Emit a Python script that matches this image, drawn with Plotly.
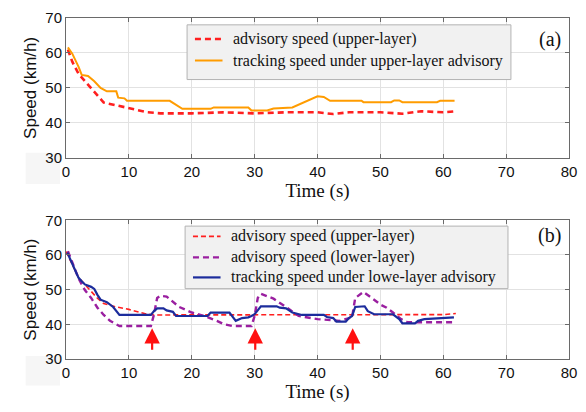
import plotly.graph_objects as go

# ---------------- Data ----------------
# Panel (a)
a_adv_t = [0.3, 1, 2, 3, 4, 5, 6, 8, 10, 12, 13, 15, 20, 25, 30, 35, 40, 42.5, 45, 50, 53.5, 56.5, 60, 62]
a_adv_v = [61.0, 57.5, 54.0, 52.0, 50.0, 48.0, 45.8, 45.0, 44.3, 43.4, 43.0, 42.7, 42.7, 43.0, 42.7, 43.0, 43.0, 42.5, 43.0, 43.0, 42.6, 43.3, 43.0, 43.3]
a_trk_t = [0.3, 1, 2, 2.5, 3.5, 4.5, 5.5, 6.5, 8, 8.3, 9.3, 9.7, 16.5, 18.5, 23, 23.5, 29, 29.5, 32, 33, 36, 38, 40, 41, 42, 47, 47.3, 51.7, 52.2, 53, 53.5, 59, 59.5, 61.8]
a_trk_v = [61.6, 59.8, 56.0, 53.7, 53.4, 51.9, 50.0, 49.0, 49.0, 47.2, 47.0, 46.3, 46.3, 44.0, 44.0, 44.4, 44.4, 43.5, 43.5, 44.1, 44.4, 46.0, 47.6, 47.4, 46.3, 46.3, 45.9, 45.9, 46.4, 46.4, 45.9, 45.9, 46.3, 46.3]

# Panel (b)
b_up_t = [0.0, 1, 2, 3, 4, 5, 6, 8, 10, 12.5, 14, 20, 30, 40, 50, 60, 62]
b_up_v = [61.0, 57.0, 53.5, 51.5, 49.5, 47.5, 46.0, 45.0, 44.3, 43.1, 42.7, 42.7, 42.7, 42.8, 42.7, 42.8, 43.1]
b_low_t = [0.3, 2, 3, 4, 5, 6, 7, 8, 8.5, 13.5, 14, 14.5, 15, 16, 17, 18, 20, 22, 24, 25, 26.5, 29.5, 30, 30.5, 31, 32, 33, 35, 37, 40, 42, 43.5, 45.5, 46, 47.3, 48, 49, 50, 51, 52, 53.3, 54.3, 61.7]
b_low_v = [61.1, 53.2, 49.9, 47.6, 44.8, 42.7, 41.0, 39.9, 39.5, 39.5, 42.9, 47.6, 48.2, 48.0, 46.6, 45.0, 43.4, 42.4, 41.0, 40.1, 39.5, 39.5, 42.4, 47.6, 48.8, 48.2, 47.4, 45.0, 42.4, 41.5, 41.2, 41.0, 42.0, 47.6, 49.3, 48.5, 47.1, 45.7, 44.8, 43.4, 41.5, 40.6, 40.6]
b_trk_t = [0.2, 1, 2, 2.5, 3, 4, 4.5, 5, 5.5, 6.5, 7.5, 8.5, 13.5, 14, 14.5, 15.5, 16, 17, 17.5, 22.5, 23, 26, 27, 28, 29, 29.5, 30, 31, 33.5, 34, 35, 36, 37.5, 41, 41.5, 42.5, 43, 44.5, 45, 45.5, 46, 47.5, 48, 49, 52, 53, 53.5, 55.5, 56, 57, 61.7]
b_trk_v = [60.7, 57.4, 53.4, 52.4, 51.5, 50.8, 50.2, 48.5, 47.1, 46.4, 45.0, 42.7, 42.7, 43.8, 44.6, 44.6, 44.0, 43.6, 42.4, 42.4, 43.4, 43.4, 41.0, 41.8, 42.0, 42.4, 42.9, 45.2, 45.2, 44.8, 44.6, 43.4, 42.7, 42.7, 42.1, 41.8, 40.8, 40.8, 41.8, 42.4, 45.0, 45.2, 43.8, 42.9, 42.9, 41.5, 40.3, 40.3, 41.0, 41.5, 42.0]

# Red arrows (time, tip speed, tail speed)
arrow_t = [13.7, 30.1, 45.6]
arrow_tip = 38.9
arrow_tail = 32.2

x_ticks = [0, 10, 20, 30, 40, 50, 60, 70, 80]
y_ticks = [30, 40, 50, 60, 70]

legend_a_names = ["advisory speed (upper-layer)", "tracking speed under upper-layer advisory"]
legend_b_names = ["advisory speed (upper-layer)", "advisory speed (lower-layer)", "tracking speed under lowe-layer advisory"]

# ---------------- Styles ----------------
RED = "#ff1f1f"
ORANGE = "#ff9c00"
PURPLE = "#9a1fa0"
BLUE = "#1c2c9c"
SERIF = "Liberation Serif"
SANS = "Liberation Sans"

W, H = 586, 412
ML, MR, MT, MB = 66, 9, 10, 53
PW = W - ML - MR
PH = H - MT - MB


def px(x):
    return (x - ML) / PW


def py(y):
    return (H - MB - y) / PH


styles_a = [dict(color=RED, width=2.6, dash="6px,4px"), dict(color=ORANGE, width=2)]
styles_b = [dict(color=RED, width=1.6, dash="5px,3px"), dict(color=PURPLE, width=2.4, dash="6px,4px"),
            dict(color=BLUE, width=2.2)]

fig = go.Figure()

fig.add_trace(go.Scatter(x=a_adv_t, y=a_adv_v, mode="lines", name=legend_a_names[0],
                         line=styles_a[0], xaxis="x", yaxis="y"))
fig.add_trace(go.Scatter(x=a_trk_t, y=a_trk_v, mode="lines", name=legend_a_names[1],
                         line=styles_a[1], xaxis="x", yaxis="y"))
fig.add_trace(go.Scatter(x=b_up_t, y=b_up_v, mode="lines", name=legend_b_names[0],
                         line=styles_b[0], xaxis="x2", yaxis="y2"))
fig.add_trace(go.Scatter(x=b_low_t, y=b_low_v, mode="lines", name=legend_b_names[1],
                         line=styles_b[1], xaxis="x2", yaxis="y2"))
fig.add_trace(go.Scatter(x=b_trk_t, y=b_trk_v, mode="lines", name=legend_b_names[2],
                         line=styles_b[2], xaxis="x2", yaxis="y2"))

axis_common = dict(
    showline=True, linecolor="#6a6a6a", linewidth=1, mirror="ticks",
    ticks="inside", ticklen=4, tickcolor="#6a6a6a",
    showgrid=True, gridcolor="#e2e2e2", gridwidth=1, zeroline=False,
    tickfont=dict(family=SANS, size=15, color="#111111"),
)

xt = dict(text="Time (s)", font=dict(family=SERIF, size=19, color="#111111"), standoff=2)
yt = dict(text="Speed (km/h)", font=dict(family=SANS, size=17, color="#111111"), standoff=4)

fig.update_layout(
    width=W, height=H,
    margin=dict(l=ML, r=MR, t=MT, b=MB),
    paper_bgcolor="white", plot_bgcolor="white",
    xaxis=dict(domain=[0, 1], range=[0, 80], tickvals=x_ticks, anchor="y", title=xt, **axis_common),
    yaxis=dict(domain=[py(153), py(10)], range=[30, 70], tickvals=y_ticks, anchor="x", title=yt, **axis_common),
    xaxis2=dict(domain=[0, 1], range=[0, 80], tickvals=x_ticks, anchor="y2", title=xt, **axis_common),
    yaxis2=dict(domain=[py(359), py(217)], range=[30, 70], tickvals=y_ticks, anchor="x2", title=yt, **axis_common),
    showlegend=False,
)

# faint grey patches at lower-left corners (scan artefact in the original)
for (x0, y0, x1, y1) in [(25, 148, 60, 180), (25, 356, 60, 386)]:
    fig.add_shape(type="rect", xref="paper", yref="paper", x0=px(x0), x1=px(x1), y0=py(y1), y1=py(y0),
                  fillcolor="#f6f6f6", line=dict(width=0), layer="below")


def draw_legend(box, rows, names, styles):
    x0, y0, x1, y1 = box
    fig.add_shape(type="rect", xref="paper", yref="paper", x0=px(x0), x1=px(x1), y0=py(y1), y1=py(y0),
                  fillcolor="#f1f1f1", line=dict(color="#b3b3b3", width=1), layer="above")
    for yy, name, st in zip(rows, names, styles):
        fig.add_shape(type="line", xref="paper", yref="paper", x0=px(x0 + 8), x1=px(x0 + 36),
                      y0=py(yy), y1=py(yy), line=st, layer="above")
        fig.add_annotation(text=name, xref="paper", yref="paper", x=px(x0 + 45), y=py(yy),
                           xanchor="left", yanchor="middle", showarrow=False,
                           font=dict(family=SERIF, size=16, color="#111111"))


draw_legend((189, 17, 518, 73), [31.5, 53.5], legend_a_names, styles_a)
draw_legend((187, 223, 515, 287), [233.5, 255, 275.5], legend_b_names, styles_b)

# panel labels
fig.add_annotation(text="(a)", xref="x domain", yref="y domain", x=0.988, y=0.846, xanchor="right",
                   yanchor="middle", showarrow=False, font=dict(family=SERIF, size=20, color="#111111"))
fig.add_annotation(text="(b)", xref="x2 domain", yref="y2 domain", x=0.988, y=0.887, xanchor="right",
                   yanchor="middle", showarrow=False, font=dict(family=SERIF, size=20, color="#111111"))

for t in arrow_t:
    fig.add_annotation(x=t, y=arrow_tip, ax=t, ay=arrow_tail, xref="x2", yref="y2", axref="x2", ayref="y2",
                       text="", showarrow=True, arrowhead=2, arrowsize=1.4, arrowwidth=2.2, arrowcolor="#ff1010")

fig.write_html("out.html")
